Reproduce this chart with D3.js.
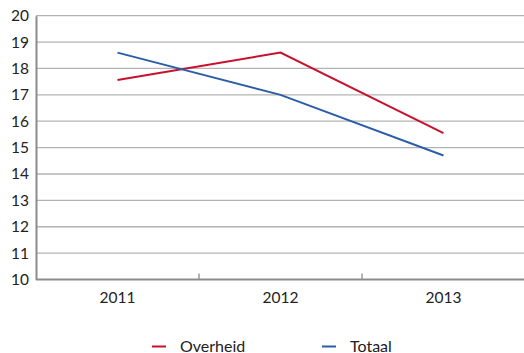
<!DOCTYPE html>
<html>
<head>
<meta charset="utf-8">
<script src="https://cdn.jsdelivr.net/npm/d3@7"></script>
<style>
  html, body { margin: 0; padding: 0; background: #fff; }
  svg { display: block; font-family: "Lato", "Noto Sans", sans-serif; }
</style>
</head>
<body>
<svg id="chart" width="524" height="353"></svg>
<script>
const years = ["2011", "2012", "2013"];
const overheid = [17.56, 18.6, 15.55];
const totaal = [18.6, 17.0, 14.7];
const yTicks = [10, 11, 12, 13, 14, 15, 16, 17, 18, 19, 20];
const seriesNames = ["Overheid", "Totaal"];
const seriesColors = ["#c8102e", "#2b5ea7"];

const svg = d3.select("#chart");
const plotLeft = 36, plotRight = 525, plotTop = 15.7, plotBottom = 279.5;

const x = d3.scaleBand().domain(years).range([plotLeft, plotRight]);
const y = d3.scaleLinear().domain([10, 20]).range([plotBottom, plotTop]);

// horizontal gridlines
svg.append("g").selectAll("line")
  .data(yTicks.filter(d => d > 10))
  .join("line")
  .attr("x1", plotLeft).attr("x2", 524)
  .attr("y1", d => y(d)).attr("y2", d => y(d))
  .attr("stroke", "#b3b3b3").attr("stroke-width", 1.3);

// y axis
const yAxis = svg.append("g")
  .attr("transform", `translate(${plotLeft},0)`)
  .call(d3.axisLeft(y).tickValues(yTicks).tickSize(0).tickPadding(7));
yAxis.select(".domain").attr("stroke", "#8c8c8c").attr("stroke-width", 2);
yAxis.selectAll("text").attr("font-size", 15.5).attr("fill", "#222")
  .attr("font-family", "Lato, 'Noto Sans', sans-serif");

// x axis with band-boundary ticks pointing up
const xAxis = svg.append("g")
  .attr("transform", `translate(0,${plotBottom})`);
xAxis.append("line")
  .attr("x1", plotLeft).attr("x2", 524).attr("y1", 0).attr("y2", 0)
  .attr("stroke", "#8c8c8c").attr("stroke-width", 2);
const bounds = years.slice(1).map(d => x(d));
xAxis.selectAll("line.tick")
  .data(bounds)
  .join("line").attr("class", "tick")
  .attr("x1", d => d).attr("x2", d => d).attr("y1", 0).attr("y2", -6)
  .attr("stroke", "#8c8c8c").attr("stroke-width", 1.3);
xAxis.selectAll("text")
  .data(years).join("text")
  .attr("x", d => x(d) + x.bandwidth() / 2)
  .attr("y", 23)
  .attr("text-anchor", "middle")
  .attr("font-size", 15.5).attr("fill", "#222")
  .text(d => d);

// lines
const line = d3.line()
  .x((d, i) => x(years[i]) + x.bandwidth() / 2)
  .y(d => y(d));
[overheid, totaal].forEach((vals, i) => {
  svg.append("path")
    .datum(vals)
    .attr("d", line)
    .attr("fill", "none")
    .attr("stroke", seriesColors[i])
    .attr("stroke-width", 2);
});

// legend
const legendX = [152, 322];
const legend = svg.append("g");
seriesNames.forEach((name, i) => {
  legend.append("line")
    .attr("x1", legendX[i]).attr("x2", legendX[i] + 14)
    .attr("y1", 346.5).attr("y2", 346.5)
    .attr("stroke", seriesColors[i]).attr("stroke-width", 2);
  legend.append("text")
    .attr("x", legendX[i] + 28).attr("y", 351.5)
    .attr("font-size", 16).attr("fill", "#222")
    .text(name);
});
</script>
</body>
</html>
